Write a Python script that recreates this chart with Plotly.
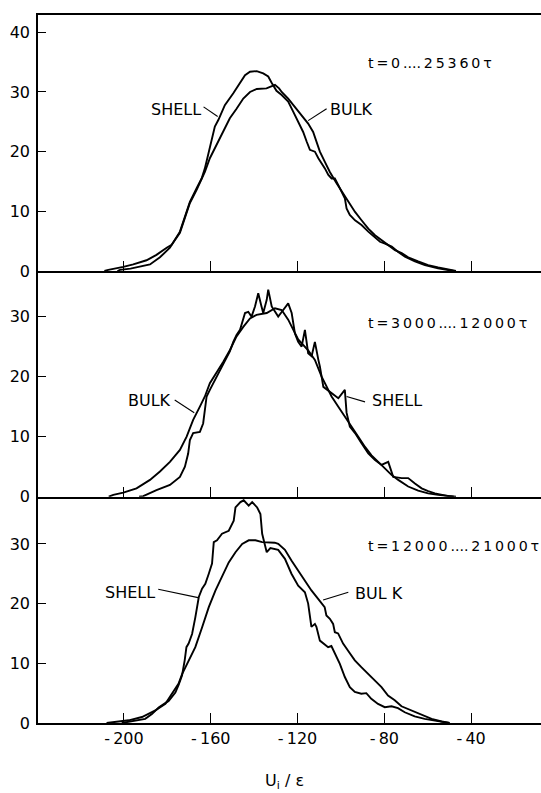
import plotly.graph_objects as go

# ---- data: distributions of the single-particle energy U_i/eps ----
# panel 1: t = 0 ... 25360 tau
shell0_u = [-203, -201.8, -197, -192.6, -188, -183.4, -178.8, -174.2, -171.1, -169.6, -166.5,
            -164.2, -162.7, -159.6, -158.1, -156.5, -153.5, -149.6, -146.5, -144.2, -141.9,
            -138.8, -135.8, -133.5, -132, -129.7, -127.3, -124.3, -122, -119.7, -117.4, -115.8,
            -114.3, -112, -110.4, -107.4, -105.8, -104.3, -102.8, -101.2, -98.2, -97.4, -95.9,
            -93.5, -90.5, -87.4, -84.3, -82, -79.7, -76.6, -73.6, -70.5, -65.9, -61.3, -55.2,
            -49.8, -48]
shell0_n = [0, 0.2, 0.4, 0.7, 1.1, 2.3, 3.9, 6.6, 9.9, 11.6, 13.9,
            15.5, 17.2, 21.7, 24.2, 25.3, 27.8, 29.8, 31.4, 32.8, 33.4,
            33.5, 33.1, 32.6, 31.6, 30.2, 29.5, 28.4, 26.7, 25.0, 23.3, 21.7,
            20.3, 20.0, 18.9, 17.2, 16.1, 15.5, 15.5, 14.4, 12.2, 10.5, 9.4,
            8.5, 7.7, 6.6, 5.7, 4.9, 4.6, 4.1, 3.2, 2.4, 1.6, 1.0, 0.45,
            0.1, 0]
bulk0_u = [-209, -207.2, -200.3, -195.7, -189.6, -185, -180.3, -178, -174.2, -171.1, -169.6,
           -166.5, -164.2, -162.7, -160.4, -157.3, -154.2, -151.2, -148.1, -145, -141.9,
           -138.8, -134.3, -130.4, -128.5, -127.3, -124.3, -121.2, -118.1, -115.1, -112.8,
           -111.2, -109.7, -107.4, -105.1, -102, -98.9, -96.6, -93.5, -90.5, -87.4, -84.3,
           -81.3, -78.2, -75.1, -72, -69, -64.4, -59.8, -55.2, -49.8, -47]
bulk0_n = [0, 0.2, 0.7, 1.1, 1.8, 2.7, 3.9, 4.4, 6.4, 9.7, 11.4,
           13.6, 15.3, 16.6, 18.9, 21.1, 23.3, 25.6, 27.2, 28.9, 30.0,
           30.5, 30.6, 31.2, 30.6, 30.0, 28.9, 27.5, 26.1, 24.7, 23.3,
           21.7, 20.0, 18.3, 16.6, 14.7, 13.0, 11.6, 9.9, 8.5, 7.1, 6.0,
           5.2, 4.3, 3.5, 3.0, 2.3, 1.6, 1.0, 0.6, 0.17, 0]

# panel 2: t = 3000 ... 12000 tau
shell1_u = [-193, -191.1, -185, -178.8, -174.2, -171.9, -170.4, -169.6, -168.1, -165, -163.5,
            -162.7, -161.9, -160.4, -158.1, -155.8, -154.2, -151.2, -149.6, -148.1, -146.5,
            -144.2, -142.7, -141.2, -139.6, -138.1, -136.6, -135.8, -134.2, -133.5, -131.9,
            -128.9, -126.6, -124.3, -122.7, -121.2, -119.7, -118.1, -116.6, -115.1, -113.5,
            -112, -110.4, -109.7, -108.1, -104.3, -101.2, -98.2, -97.4, -95.9, -93.5, -90.5,
            -87.4, -84.3, -81.3, -78.2, -75.9, -72, -69, -65.9, -62.8, -59.8, -56.7, -50.5, -48]
shell1_n = [0, 0.1, 1.1, 1.95, 3.3, 5.0, 7.2, 9.45, 10.6, 10.8, 12.2,
            15.0, 16.7, 17.8, 19.45, 21.1, 22.2, 24.2, 25.8, 26.95, 27.8,
            30.6, 30.8, 30.0, 31.7, 33.9, 31.7, 30.6, 32.8, 34.5, 31.7,
            30.0, 31.1, 32.2, 30.6, 27.2, 25.8, 25.0, 27.8, 23.9, 23.4,
            25.8, 22.8, 21.7, 18.3, 17.2, 16.4, 17.8, 14.0, 11.7, 10.6, 8.9,
            7.2, 6.1, 5.3, 5.8, 3.3, 3.1, 3.1, 2.2, 1.4, 0.95, 0.55, 0.1, 0]
bulk1_u = [-207, -204.9, -200.3, -194.2, -188, -183.4, -178.8, -174.2, -171.1, -168.1, -165,
           -162.7, -160.4, -157.3, -154.2, -151.2, -148.1, -145, -141.9, -138.9, -134.2,
           -130.4, -127.3, -124.3, -121.2, -119.7, -115.1, -112, -108.9, -104.3, -101.2,
           -98.2, -95.1, -92, -88.9, -85.9, -82.8, -79.7, -76.6, -73.6, -69, -64.4, -59.8,
           -55.2, -49.8, -47]
bulk1_n = [0, 0.3, 0.67, 1.4, 2.8, 4.2, 5.8, 7.8, 10.0, 12.8, 15.0,
           16.7, 18.9, 20.6, 22.5, 24.4, 26.7, 28.3, 29.7, 30.3, 30.6,
           31.4, 31.1, 29.5, 27.2, 26.2, 24.4, 22.8, 20.0, 16.7, 15.0,
           13.3, 11.7, 10.0, 8.3, 6.9, 5.8, 4.7, 3.6, 2.8, 1.7, 1.0, 0.55,
           0.3, 0.1, 0]

# panel 3: t = 12000 ... 21000 tau
shell2_u = [-201, -199.4, -195, -190.2, -187.1, -184, -179.4, -176.3, -174.8, -173.2, -172,
            -171.2, -170.2, -168.6, -167.1, -165.5, -164, -162.5, -160.9, -159.4, -158.6,
            -157.1, -154.8, -151.7, -149.4, -148.6, -146.3, -144.8, -142.5, -140.9, -138.6,
            -137.1, -136.3, -135.3, -134.2, -132.5, -128.9, -125.8, -122.8, -119.7, -116.6,
            -115.1, -114.3, -113.6, -112, -111.3, -109.7, -108.2, -105.9, -104.4, -102.8,
            -100.5, -98.2, -95.9, -93.6, -90.6, -88.3, -86, -82.9, -79.8, -76.7, -73.7,
            -70.6, -66, -61.4, -56.8, -52.1, -50]
shell2_n = [0, 0.1, 0.4, 0.7, 1.5, 2.6, 3.7, 5.1, 6.4, 8.0, 10.5,
            12.7, 13.3, 14.9, 17.7, 21.1, 22.5, 23.3, 25.0, 26.7, 30.3,
            30.6, 31.7, 32.2, 33.9, 36.1, 37.0, 37.3, 36.4, 37.0, 36.1,
            35.0, 31.7, 30.0, 28.6, 29.3, 29.0, 27.5, 25.0, 23.0, 21.9,
            20.0, 17.7, 16.1, 16.6, 16.1, 13.8, 13.3, 12.7, 12.9, 11.6,
            9.9, 7.7, 6.0, 5.2, 4.9, 5.0, 4.05, 3.2, 2.65, 2.8, 2.5,
            1.8, 1.1, 0.7, 0.4, 0.14, 0]
bulk2_u = [-208, -207.1, -197.8, -191.7, -185.5, -180.9, -177.8, -174.8, -173.2, -170.2, -167.1,
           -164, -160.9, -157.8, -154.8, -151.7, -148.6, -145.5, -142.5, -139.4, -136.3,
           -133.2, -130.5, -128.9, -125.8, -122.8, -119.7, -116.6, -113.6, -110.5, -107.5,
           -106.7, -105.1, -103.6, -102.8, -101.3, -99, -96.7, -93.6, -90.6, -87.5, -84.4,
           -81.3, -78.3, -75.2, -72.1, -67.5, -62.8, -58.2, -53.6, -49.9]
bulk2_n = [0, 0.05, 0.45, 1.0, 2.1, 3.2, 4.9, 6.6, 8.2, 10.5, 12.7,
           16.0, 19.4, 22.2, 24.4, 26.9, 28.6, 30.0, 30.6, 30.6, 30.3,
           30.3, 30.2, 30.0, 29.0, 27.2, 25.5, 23.9, 22.2, 20.8, 19.4,
           18.0, 17.45, 16.6, 15.2, 15.0, 13.3, 12.1, 10.5, 9.35, 8.2, 7.1,
           6.0, 4.6, 3.8, 2.8, 2.1, 1.3, 0.7, 0.25, 0]

time_labels = ["t=0....25360\u03c4", "t=3000....12000\u03c4", "t=12000....21000\u03c4"]
u_ticks = [-200, -160, -120, -80, -40]
u_tick_text = ["-\u2009200", "-\u2009160", "-\u2009120", "-\u200980", "-\u200940"]
n_ticks_top = [0, 10, 20, 30, 40]
n_ticks = [0, 10, 20, 30]

FONT = "DejaVu Sans"
INK = "black"


def lettered(text):
    """Open up the lettering a little, like stencil text (dots stay tight)."""
    out = ""
    for i, ch in enumerate(text):
        out += ch
        if i + 1 < len(text) and not (ch == "." and text[i + 1] == "."):
            out += "\u2009"
    return out


panels = [  # (x-axis, y-axis, shell, bulk)
    ("x3", "y3", (shell0_u, shell0_n), (bulk0_u, bulk0_n)),
    ("x2", "y2", (shell1_u, shell1_n), (bulk1_u, bulk1_n)),
    ("x", "y", (shell2_u, shell2_n), (bulk2_u, bulk2_n)),
]

fig = go.Figure()
for xa, ya, shell, bulk in panels:
    for (u, n), name in ((shell, "SHELL"), (bulk, "BULK")):
        fig.add_trace(go.Scatter(x=u, y=n, xaxis=xa, yaxis=ya, mode="lines", name=name,
                                 line=dict(color=INK, width=1.9), showlegend=False,
                                 hoverinfo="skip"))

x_range = [-239.6, -7.8]
common_x = dict(range=x_range, tickvals=u_ticks, ticks="inside", ticklen=10, tickwidth=1.2,
                tickcolor=INK, showline=True, linecolor=INK, linewidth=2, showgrid=False,
                zeroline=False)
common_y = dict(ticks="inside", ticklen=8, tickwidth=1.2, tickcolor=INK, showline=True,
                linecolor=INK, linewidth=1.5, showgrid=False, zeroline=False,
                ticklabelstandoff=3,
                tickfont=dict(family=FONT, size=16, color=INK))

fig.update_layout(
    width=541, height=793,
    margin=dict(l=38, r=0, t=15, b=70),
    paper_bgcolor="white", plot_bgcolor="white",
    font=dict(family=FONT, color=INK),
    xaxis=dict(**common_x, anchor="y", ticktext=u_tick_text,
               tickfont=dict(family=FONT, size=16, color=INK)),
    xaxis2=dict(**common_x, anchor="y2", matches="x", showticklabels=False),
    xaxis3=dict(**common_x, anchor="y3", matches="x", showticklabels=False, mirror=True),
    yaxis=dict(**common_y, domain=[0, 0.3196], range=[0, 37.9], tickvals=n_ticks),
    yaxis2=dict(**common_y, domain=[0.3196, 0.6384], range=[0, 37.6], tickvals=n_ticks),
    yaxis3=dict(**common_y, domain=[0.6384, 1], range=[0, 42.9], tickvals=n_ticks_top),
)

# time-window labels
for (xa, ya, _, _), text, yv in zip(panels, time_labels, [34.8, 28.9, 29.7]):
    fig.add_annotation(x=-88.4, y=yv, xref=xa, yref=ya, text=lettered(text), showarrow=False,
                       xanchor="left", yanchor="middle",
                       font=dict(family=FONT, size=14.2, color=INK))

# curve labels with leader lines: (axes, text, x, y, anchor, leader start, leader end)
curve_labels = [
    ("x3", "y3", "SHELL", -163.6, 27.1, "right", (-163.3, 27.5), (-156.8, 25.9)),
    ("x3", "y3", "BULK", -105.9, 27.0, "left", (-106.6, 27.2), (-115.1, 25.2)),
    ("x2", "y2", "BULK", -177.3, 16.0, "right", (-176.6, 16.1), (-167.6, 14.0)),
    ("x2", "y2", "SHELL", -86.6, 16.0, "left", (-88.9, 15.8), (-97.4, 16.7)),
    ("x", "y", "SHELL", -184.9, 21.9, "right", (-184.2, 22.4), (-165.8, 21.0)),
    ("x", "y", "BUL K", -94.3, 21.7, "left", (-96.6, 21.9), (-108.2, 20.6)),
]
for xa, ya, text, xv, yv, anchor, p0, p1 in curve_labels:
    fig.add_annotation(x=xv, y=yv, xref=xa, yref=ya, text=text, showarrow=False,
                       xanchor=anchor, yanchor="middle",
                       font=dict(family=FONT, size=16, color=INK))
    fig.add_shape(type="line", xref=xa, yref=ya, x0=p0[0], y0=p0[1], x1=p1[0], y1=p1[1],
                  line=dict(color=INK, width=1.1))

# x-axis title
fig.add_annotation(x=0.491, y=-0.0833, xref="paper", yref="paper",
                   text="U<sub>i</sub> / \u03b5", showarrow=False,
                   xanchor="center", yanchor="middle",
                   font=dict(family=FONT, size=16, color=INK))

fig.write_html("out.html")
